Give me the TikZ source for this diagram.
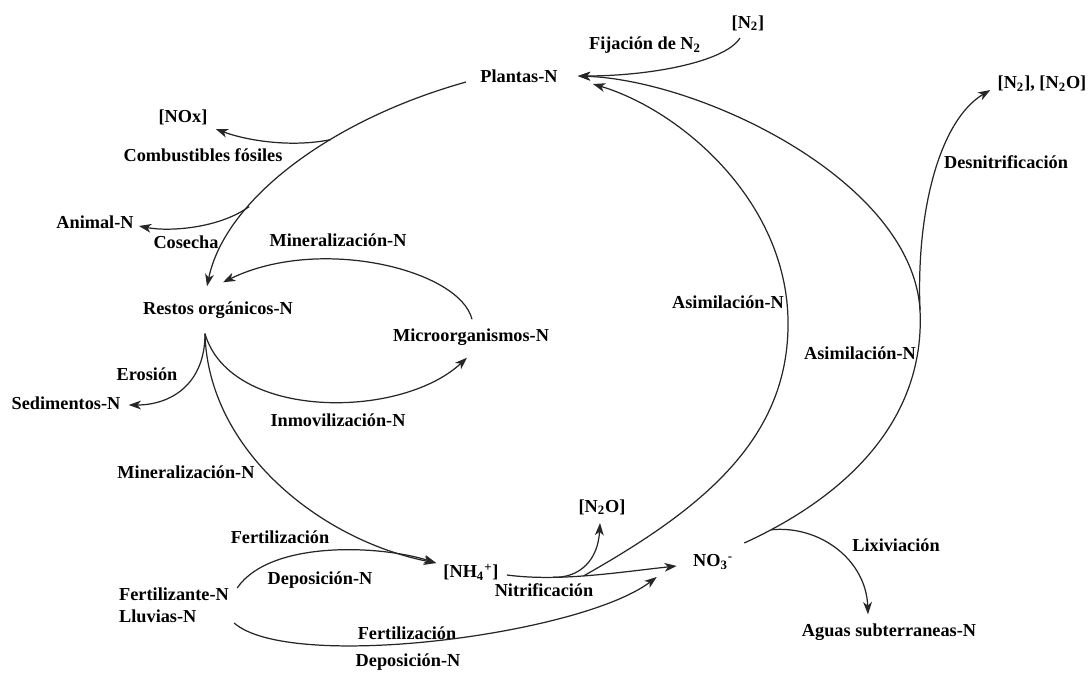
\documentclass[tikz,border=0pt]{standalone}
\usepackage{fontspec}
\setmainfont{Liberation Serif}
\usetikzlibrary{arrows.meta,positioning,calc}

\begin{document}
\begin{tikzpicture}[
  x=0.02cm, y=-0.02cm,
  font=\fontsize{10.4}{12.5}\selectfont\bfseries,
  n/.style={inner sep=0pt},
  lb/.style={inner sep=0pt},
  d/.style={-{Stealth[length=7pt,width=5pt,inset=2pt]}, line width=0.7pt, black!85},
  ln/.style={line width=0.7pt, black!85}
]
\useasboundingbox (0,0) rectangle (1091,673);
\node[n] (n2) at (748,23) {[N\textsubscript{2}]};
\node[n] (pla) at (519,76) {Plantas-N};
\node[n] (gas) at (1042,84) {[N\textsubscript{2}], [N\textsubscript{2}O]};
\node[n] (nox) at (183,117) {[NOx]};
\node[n] (ani) at (95,222) {Animal-N};
\node[n] (res) at (218,310) {Restos orgánicos-N};
\node[n] (mic) at (471,337) {Microorganismos-N};
\node[n] (sed) at (66,403) {Sedimentos-N};
\node[n] (n2o) at (602,507) {[N\textsubscript{2}O]};
\node[n] (nh4) at (471,572) {[NH\textsubscript{4}\textsuperscript{+}]};
\node[n] (no3) at (713,562) {NO\textsubscript{3}\textsuperscript{-}};
\node[n, align=left] (fer) at (174,605) {Fertilizante-N\\Lluvias-N};
\node[n] (agu) at (889,632) {Aguas subterraneas-N};

\node[lb] (fij) at (645,45) {Fijación de N\textsubscript{2}};
\node[lb] (com) at (203,155) {Combustibles fósiles};
\node[lb] (cos) at (186,242) {Cosecha};
\node[lb] (mi1) at (338,240) {Mineralización-N};
\node[lb] (ero) at (147,374) {Erosión};
\node[lb] (inm) at (338,420) {Inmovilización-N};
\node[lb] (mi2) at (186,472) {Mineralización-N};
\node[lb] (fe1) at (280,537) {Fertilización};
\node[lb] (de1) at (320,580) {Deposición-N};
\node[lb] (nit) at (544,590) {Nitrificación};
\node[lb] (fe2) at (407,633) {Fertilización};
\node[lb] (de2) at (408,662) {Deposición-N};
\node[lb] (as1) at (728,302) {Asimilación-N};
\node[lb] (as2) at (860,353) {Asimilación-N};
\node[lb] (des) at (1006,162) {Desnitrificación};
\node[lb] (lix) at (896,545) {Lixiviación};

\draw[d] ($(n2.south)+(-8,7)$) .. controls (725,62) and (650,76) .. ($(pla.east)+(20,0)$);
\draw[d] ($(pla.west)+(-14,6)$) .. controls (330,120) and (225,200) .. ($(res.north)+(-11,-15)$)
  coordinate[pos=0.37] (b1) coordinate[pos=0.68] (b2);
\draw[d] (b1) .. controls (290,148) and (245,140) .. ($(nox.east)+(8,12)$);
\draw[d] (b2) .. controls (220,228) and (170,232) .. ($(ani.east)+(5,4)$);
\draw[d] ($(mic.north)+(1,-9)$) .. controls (460,270) and (320,235) .. ($(res.north)+(5,-19)$);
\coordinate (rs) at ($(res.south)+(-13,15)$);
\draw[d] (rs) .. controls (205,385) and (170,405) .. ($(sed.east)+(8,2)$);
\draw[d] (rs) .. controls (230,420) and (400,420) .. ($(mic.south)+(-4,12)$);
\draw[d] (rs) .. controls (208,450) and (320,540) .. ($(nh4.west)+(-7,-9)$);
\draw[d] ($(fer.east)+(8,-17)$) .. controls (270,540) and (380,545) .. ($(nh4.west)+(-7,-9)$);
\draw[d] ($(fer.east)+(5,18)$) .. controls (290,672) and (580,635) .. ($(no3.west)+(-36,15)$);
\draw[d] ($(nh4.east)+(8,3)$) .. controls (560,582) and (620,572) .. ($(no3.west)+(-16,4)$)
  coordinate[pos=0.28] (b3) coordinate[pos=0.46] (b4);
\draw[d] (b3) .. controls (580,578) and (598,560) .. ($(n2o.south)+(-2,8)$);
\draw[d] (b4) .. controls (700,510) and (790,440) .. (788,320)
  .. controls (786,200) and (680,110) .. ($(pla.east)+(35,8)$);
\draw[d] ($(no3.east)+(11,-19)$) .. controls (860,490) and (925,410) .. (920,310)
  coordinate[pos=0.08] (b5) coordinate (b6)
  .. controls (912,180) and (700,80) .. ($(pla.east)+(20,0)$);
\draw[d] (b6) .. controls (916,210) and (940,120) .. ($(gas.west)+(-7,6)$);
\draw[d] (b5) .. controls (820,525) and (866,560) .. ($(agu.north)+(-21,-9)$);
\end{tikzpicture}
\end{document}
